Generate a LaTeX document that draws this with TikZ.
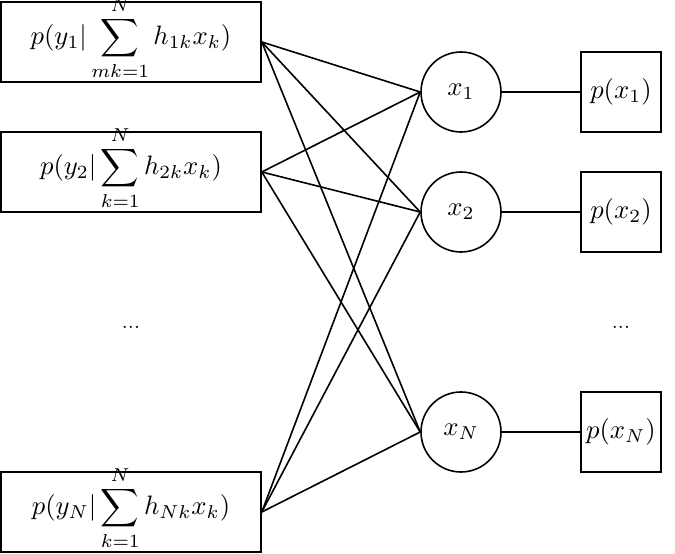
\documentclass[tikz,border=0pt]{standalone}
\usetikzlibrary{positioning}

\begin{document}
\begin{tikzpicture}[x=0.375pt, y=-0.375pt, semithick,
    factor/.style={draw, minimum width=97.5pt, minimum height=30pt, inner sep=0pt, text height=2.25pt, text depth=0pt},
    var/.style={draw, circle, minimum size=30pt, inner sep=0pt},
    prior/.style={draw, minimum size=30pt, inner sep=0pt}]
      \useasboundingbox (0,0) rectangle (675,554);
      \node (F1) [factor] at (131,42) {$\displaystyle p(y_1|\sum_{mk=1}^{N} h_{1k}x_k)$};
      \node (F2) [factor] at (131,172) {$\displaystyle p(y_2|\sum_{k=1}^{N} h_{2k}x_k)$};
      \node (FN) [factor] at (131,512) {$\displaystyle p(y_N|\sum_{k=1}^{N} h_{Nk}x_k)$};
      \node (FD) at (131,327) {\scriptsize ...};
      \node (X1) [var] at (461,92) {$x_1$};
      \node (X2) [var] at (461,212) {$x_2$};
      \node (XN) [var] at (461,432) {$x_N$};
      \node (P1) [prior] at (621,92) {$p(x_1)$};
      \node (P2) [prior] at (621,212) {$p(x_2)$};
      \node (PN) [prior] at (621,432) {$p(x_N)$};
      \node (PD) at (621,327) {\scriptsize ...};
      \path
        (F1.east) edge (X1.west) (F1.east) edge (X2.west) (F1.east) edge (XN.west)
        (F2.east) edge (X1.west) (F2.east) edge (X2.west) (F2.east) edge (XN.west)
        (FN.east) edge (X1.west) (FN.east) edge (X2.west) (FN.east) edge (XN.west)
        (X1) edge (P1)
        (X2) edge (P2)
        (XN) edge (PN);
    \end{tikzpicture}
\end{document}
